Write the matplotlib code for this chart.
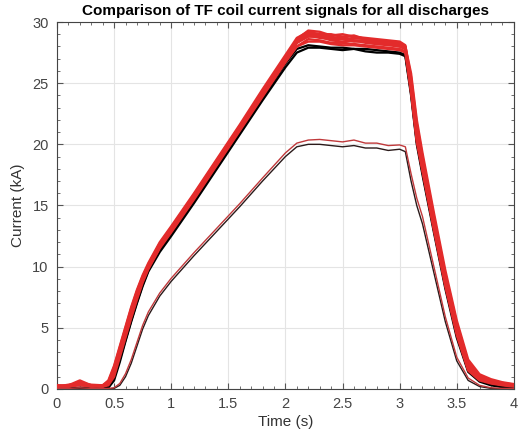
import matplotlib
matplotlib.use("Agg")
import matplotlib.pyplot as plt
from matplotlib.ticker import MultipleLocator

# ---------------- data ----------------
time_s = [0, 0.1, 0.2, 0.3, 0.4, 0.45, 0.5, 0.55, 0.6, 0.65, 0.7, 0.75, 0.8, 0.9,
          1.0, 1.2, 1.4, 1.6, 1.8, 2.0, 2.1, 2.2, 2.3, 2.4, 2.5, 2.6, 2.7, 2.8,
          2.9, 3.0, 3.05, 3.1, 3.15, 3.2, 3.3, 3.4, 3.5, 3.6, 3.7, 3.8, 3.9, 4.0]

main_black_1 = [0.0, 0.05, 0.1, 0.05, 0.05, 0.1, 0.7, 2.2, 3.9, 5.5, 7.0, 8.4, 9.6, 11.2,
                12.5, 15.2, 18.0, 20.8, 23.6, 26.3, 27.5, 27.9, 27.9, 27.8, 27.7, 27.8, 27.6, 27.5,
                27.5, 27.4, 27.2, 24.0, 20.0, 17.5, 12.8, 8.2, 4.2, 1.4, 0.6, 0.3, 0.15, 0.1]
main_black_2 = [0.05, 0.0, 0.1, 0.1, 0.0, 0.2, 0.9, 2.4, 4.0, 5.6, 7.1, 8.5, 9.7, 11.4,
                12.7, 15.4, 18.2, 21.0, 23.8, 26.6, 27.8, 28.1, 28.0, 27.9, 27.9, 27.8, 27.8, 27.7,
                27.6, 27.5, 27.3, 24.2, 20.2, 17.7, 13.0, 8.4, 4.4, 1.5, 0.7, 0.35, 0.2, 0.1]

main_red_1 = [0.2, 0.25, 0.6, 0.2, 0.25, 0.5, 1.6, 3.2, 4.8, 6.4, 7.9, 9.1, 10.1, 11.8,
              13.1, 15.8, 18.6, 21.4, 24.3, 27.1, 28.6, 29.3, 29.2, 28.9, 29.0, 28.8, 28.7, 28.6,
              28.5, 28.4, 28.1, 25.0, 21.0, 18.5, 13.6, 9.0, 5.0, 1.9, 0.9, 0.6, 0.4, 0.3]
main_red_2 = [0.3, 0.2, 0.4, 0.3, 0.2, 0.4, 1.3, 2.9, 4.5, 6.1, 7.6, 8.9, 9.9, 11.6,
              12.9, 15.6, 18.4, 21.2, 24.0, 26.8, 28.3, 29.0, 28.9, 28.7, 28.8, 28.5, 28.5, 28.3,
              28.2, 28.1, 27.9, 24.6, 20.6, 18.1, 13.3, 8.7, 4.7, 1.7, 0.8, 0.5, 0.35, 0.25]
main_red_3 = [0.25, 0.3, 0.5, 0.25, 0.3, 0.6, 1.8, 3.4, 5.0, 6.6, 8.0, 9.2, 10.2, 11.9,
              13.2, 15.9, 18.7, 21.5, 24.3, 27.0, 28.3, 28.8, 28.8, 28.5, 28.4, 28.5, 28.3, 28.2,
              28.1, 28.0, 27.8, 25.3, 21.4, 18.8, 13.9, 9.2, 5.2, 2.0, 1.0, 0.6, 0.45, 0.35]
main_red_4 = [0.2, 0.2, 0.3, 0.2, 0.2, 0.3, 1.0, 2.6, 4.2, 5.8, 7.3, 8.7, 9.8, 11.5,
              12.8, 15.5, 18.3, 21.1, 23.9, 26.7, 28.0, 28.6, 28.5, 28.3, 28.3, 28.2, 28.1, 28.0,
              27.9, 27.8, 27.6, 24.2, 20.2, 17.8, 13.0, 8.4, 4.4, 1.5, 0.7, 0.45, 0.3, 0.2]
main_red_5 = [0.15, 0.3, 0.7, 0.3, 0.2, 0.5, 1.5, 3.1, 4.7, 6.3, 7.8, 9.0, 10.0, 11.7,
              13.0, 15.7, 18.5, 21.3, 24.2, 27.0, 28.5, 29.1, 29.0, 28.8, 28.6, 28.7, 28.6, 28.4,
              28.3, 28.2, 28.0, 25.5, 21.7, 19.0, 14.1, 9.4, 5.4, 2.2, 1.1, 0.7, 0.5, 0.35]
main_red_6 = [0.3, 0.25, 0.35, 0.3, 0.25, 0.4, 1.2, 2.8, 4.4, 6.0, 7.5, 8.8, 9.9, 11.6,
              12.9, 15.6, 18.4, 21.2, 24.0, 26.8, 28.0, 28.4, 28.4, 28.2, 28.1, 28.1, 28.0, 27.9,
              27.8, 27.7, 27.5, 24.4, 20.4, 17.9, 13.1, 8.5, 4.6, 1.6, 0.8, 0.5, 0.35, 0.25]
main_red_7 = [0.25, 0.2, 0.5, 0.35, 0.3, 0.7, 1.9, 3.5, 5.1, 6.7, 8.1, 9.3, 10.3, 12.0,
              13.3, 16.0, 18.8, 21.6, 24.5, 27.3, 28.7, 29.2, 29.0, 29.0, 28.8, 28.9, 28.6, 28.5,
              28.4, 28.3, 28.0, 25.8, 22.0, 19.3, 14.4, 9.7, 5.6, 2.4, 1.2, 0.8, 0.55, 0.4]
main_red_8 = [0.2, 0.35, 0.45, 0.2, 0.3, 0.45, 1.4, 3.0, 4.6, 6.2, 7.7, 9.0, 10.0, 11.7,
              13.0, 15.7, 18.5, 21.3, 24.1, 26.9, 28.3, 28.9, 28.7, 28.6, 28.6, 28.4, 28.4, 28.2,
              28.2, 28.0, 27.8, 24.8, 20.9, 18.3, 13.5, 8.8, 4.9, 1.8, 0.9, 0.55, 0.4, 0.3]

low_black = [0.0, 0.0, 0.05, 0.0, 0.0, 0.0, 0.05, 0.3, 1.0, 2.1, 3.5, 4.9, 6.0, 7.6,
             8.8, 10.9, 12.9, 14.9, 17.0, 19.0, 19.8, 20.0, 20.0, 19.9, 19.8, 19.9, 19.7, 19.7,
             19.5, 19.6, 19.4, 17.0, 15.0, 13.5, 9.5, 5.5, 2.3, 0.7, 0.2, 0.05, 0.0, 0.0]
low_red = [0.05, 0.05, 0.1, 0.05, 0.05, 0.05, 0.1, 0.45, 1.25, 2.4, 3.8, 5.2, 6.3, 7.85,
           9.05, 11.15, 13.15, 15.15, 17.25, 19.3, 20.1, 20.35, 20.4, 20.3, 20.2, 20.35, 20.1, 20.1,
           19.9, 19.95, 19.8, 17.6, 15.6, 14.1, 10.0, 5.9, 2.6, 0.9, 0.3, 0.1, 0.05, 0.05]

black_series = [main_black_1, main_black_2]
red_series = [main_red_1, main_red_2, main_red_3, main_red_4,
              main_red_5, main_red_6, main_red_7, main_red_8]

x_ticks = [0, 0.5, 1, 1.5, 2, 2.5, 3, 3.5, 4]
x_tick_labels = ["0", "0.5", "1", "1.5", "2", "2.5", "3", "3.5", "4"]
y_ticks = [0, 5, 10, 15, 20, 25, 30]

# ---------------- plot ----------------
plt.rcParams['font.family'] = ['Liberation Sans', 'DejaVu Sans']

fig = plt.figure(figsize=(5.18, 4.34), dpi=100)
ax = fig.add_axes([0.110, 0.1037, 0.882, 0.8456])

red = '#e32b2b'
for s in black_series:
    ax.plot(time_s, s, color='black', lw=1.6, zorder=2)
for s in red_series:
    ax.plot(time_s, s, color=red, lw=1.7, zorder=3)
ax.plot(time_s, low_black, color='#2a1a1a', lw=1.0, zorder=2)
ax.plot(time_s, low_red, color='#c0393b', lw=1.0, zorder=3)

ax.set_xlim(0, 4)
ax.set_ylim(0, 30)
ax.set_xticks(x_ticks)
ax.set_xticklabels(x_tick_labels)
ax.set_yticks(y_ticks)
ax.xaxis.set_minor_locator(MultipleLocator(0.1))
ax.yaxis.set_minor_locator(MultipleLocator(1))
ax.tick_params(which='both', direction='in', top=True, right=True,
               colors='#555555', labelcolor='#444444', labelsize=10.5)
ax.tick_params(which='major', length=4, pad=6)
ax.tick_params(which='minor', length=2)
ax.grid(True, which='major', color='#e4e4e4', lw=0.8, zorder=0)
for sp in ax.spines.values():
    sp.set_color('#444444')
    sp.set_linewidth(0.8)

ax.set_xlabel('Time (s)', fontsize=11, color='#333333', labelpad=3)
ax.set_ylabel('Current (kA)', fontsize=11, color='#333333', labelpad=5)
ax.set_title('Comparison of TF coil current signals for all discharges',
             fontsize=11, fontweight='bold', pad=5)

fig.savefig('out.png', dpi=100)
